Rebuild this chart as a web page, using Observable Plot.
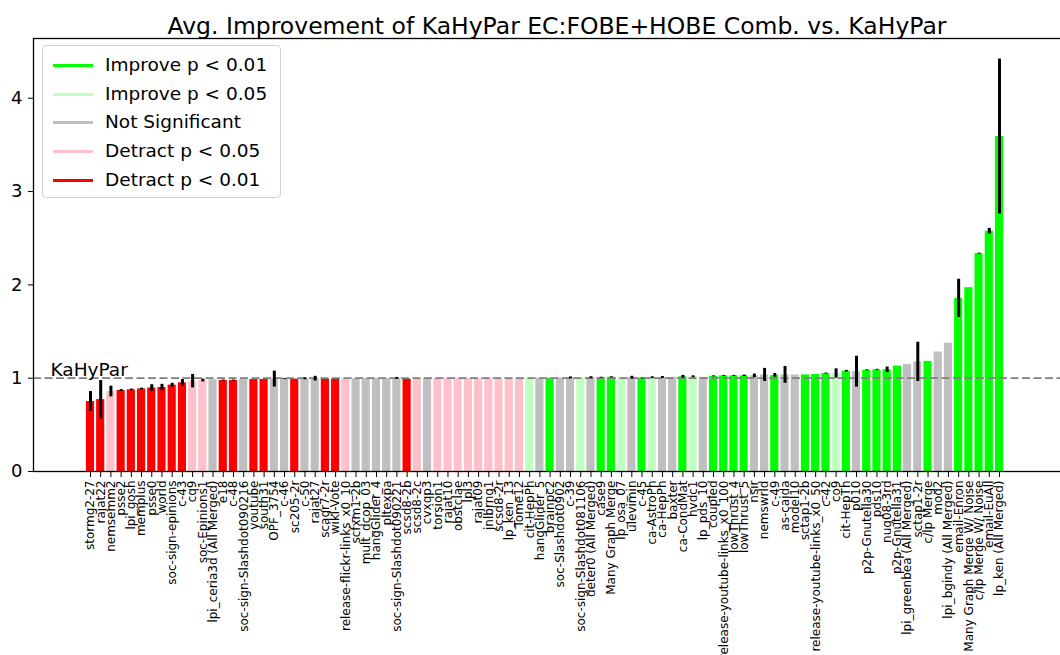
<!DOCTYPE html>
<html><head><meta charset="utf-8">
<script src="https://cdn.jsdelivr.net/npm/d3@7"></script>
<script src="https://cdn.jsdelivr.net/npm/@observablehq/plot@0.6"></script>
<style>
body{margin:0;overflow:hidden;background:#fff;font-family:"DejaVu Sans",sans-serif}
#wrap{position:relative;width:1060px;height:655px;overflow:hidden}
.legend{position:absolute;left:42px;top:45px;width:239px;height:153px;border:1px solid #d4d4d4;border-radius:4px;background:rgba(255,255,255,0.85);box-sizing:border-box}
.row{position:absolute;left:0;width:100%;height:24px}
.sw{position:absolute;left:10px;top:11px;width:40px;height:3px}
.lab{position:absolute;left:62px;top:0;font-size:18.5px;line-height:24px;white-space:nowrap;color:#000}
</style></head><body><div id="wrap"></div>
<script>
const title = "Avg. Improvement of KaHyPar EC:FOBE+HOBE Comb. vs. KaHyPar";
const labels = ["stormg2-27","rajat22","nemsemm2","psse2","lpi_gosh","memplus","psse0","world","soc-sign-epinions","c-43",
"cq9","soc-Epinions1","lpi_ceria3d (All Merged)","e18","c-48","soc-sign-Slashdot090216","youtube","south31","OPF_3754","c-46",
"sc205-2r","c-50","rajat27","scagr7-2r","wiki-Vote","release-flickr-links_x0_10","scfxm1-2b","mult_dcop_03","hangGlider_4","pltexpa",
"soc-sign-Slashdot090221","scsd8-2b","scsd8-2c","cvxqp3","torsion1","rajat10","obstclae","lpl3","rajat09","jnlbrng1",
"scsd8-2r","lp_ken_13","Tome12","cit-HepPh","hangGlider_5","brainpc2","soc-Slashdot0902","c-39","soc-sign-Slashdot081106","deter0 (All Merged)",
"case9","Many Graph Merge","lp_osa_07","ulevimin","c-45","ca-AstroPh","ca-HepPh","baxter","ca-CondMat","hvdc1",
"lp_pds_10","coupled","release-youtube-links_x0_100","lowThrust_4","lowThrust_5","nsir","nemswrld","c-49","as-caida","model10",
"sctap1-2b","release-youtube-links_x0_50","c-42","co9","cit-HepTh","p010","p2p-Gnutella30","pds10","nug08-3rd","p2p-Gnutella31",
"lpi_greenbea (All Merged)","sctap1-2r","c/lp Merge","mod2","lpi_bgindy (All Merged)","email-Enron","Many Graph Merge W/ Noise","c/lp Merge W/ Noise","email-EuAll","lp_ken (All Merged)"];
const values = [0.75,0.77,0.857,0.868,0.875,0.885,0.895,0.90,0.925,0.95,
0.968,0.975,0.983,0.975,0.975,0.985,0.985,0.987,0.99,0.99,
0.99,0.993,0.995,0.99,0.99,0.993,0.995,0.996,0.996,0.997,
0.998,0.99,0.995,0.997,0.996,0.996,0.997,0.997,0.997,0.998,
0.998,0.998,0.998,1.0,1.0,1.0,1.0,1.003,1.0,1.005,
1.005,1.01,1.0,1.005,0.998,1.005,1.008,1.008,1.015,1.015,
1.01,1.02,1.025,1.025,1.025,1.025,1.035,1.03,1.035,1.035,
1.035,1.04,1.05,1.05,1.075,1.07,1.085,1.09,1.09,1.13,
1.147,1.175,1.18,1.28,1.375,1.855,1.97,2.335,2.575,3.59];
const errors = [0.107,0.205,0.057,0.01,0.008,0.008,0.035,0.034,0.02,0.035,
0.072,0.015,0,0.005,0.005,0,0,0,0.085,0.005,
0,0.01,0.025,0,0,0,0,0,0,0,
0.01,0,0,0,0,0,0,0,0,0,
0,0,0,0,0,0,0,0.01,0,0.01,
0.005,0.005,0,0.015,0.005,0.01,0.01,0,0.015,0.01,
0,0.005,0.005,0.005,0.008,0.02,0.07,0.02,0.09,0,
0,0,0.005,0.05,0.008,0.165,0.005,0.005,0.03,0,
0,0.21,0,0,0,0.205,0,0.005,0.03,0.83];
// significance codes: G improve p<0.01, g improve p<0.05, N not significant, p detract p<0.05, R detract p<0.01
const sigCodes = ["R","R","p","R","R","R","R","R","R","R",
"p","p","N","R","R","N","R","R","N","N",
"R","N","N","R","R","p","N","N","N","N",
"N","R","p","N","p","p","p","p","p","p",
"p","p","p","g","N","G","N","N","g","N",
"G","G","g","N","G","g","N","N","G","g",
"N","G","G","G","G","N","N","G","N","N",
"G","G","G","g","G","N","G","G","G","G",
"N","N","G","N","N","G","G","G","G","G"];
const categoryCodes = ["G","g","N","p","R"];
const categoryNames = ["Improve p < 0.01","Improve p < 0.05","Not Significant","Detract p < 0.05","Detract p < 0.01"];
const categoryColors = ["#00ff00","#bfffbf","#bfbfbf","#ffc0cb","#ff0000"];
const baselineLabel = "KaHyPar";
const baselineValue = 1;
const yTicks = [0,1,2,3,4];

const rows = labels.map((name,i)=>({name, value: values[i], err: errors[i], sig: categoryNames[categoryCodes.indexOf(sigCodes[i])]}));

const chart = Plot.plot({
  width: 1060, height: 655,
  marginTop: 38, marginBottom: 184, marginLeft: 33, marginRight: -20,
  style: {fontFamily: "DejaVu Sans", background: "#fff", overflow: "hidden", color: "#000"},
  x: {type: "band", domain: labels, range: [85.9, 1003.1], paddingInner: 0.2, paddingOuter: 0, round: false},
  y: {domain: [0, 4.64], ticks: yTicks},
  color: {domain: categoryNames, range: categoryColors},
  marks: [
    Plot.barY(rows, {x: "name", y: "value", fill: "sig"}),
    Plot.ruleY([baselineValue], {stroke: "#808080", strokeWidth: 1.8, strokeDasharray: "8,3.5"}),
    Plot.ruleX(rows.filter(d => d.err > 0), {x: "name", y1: d => d.value - d.err, y2: d => d.value + d.err, stroke: "#000", strokeWidth: 3}),
    Plot.text([{t: baselineLabel, y: baselineValue}], {y: "y", text: "t", frameAnchor: "left", textAnchor: "start", lineAnchor: "bottom", dx: 17, dy: -2, fontSize: 18.5, fill: "#000"}),
    Plot.text([title], {frameAnchor: "top", dy: -21, fontSize: 23.5, fill: "#000"}),
    Plot.axisY({ticks: yTicks, tickSize: 5, tickPadding: 6, fontSize: 18, label: null, tickFormat: d3.format("d")}),
    Plot.axisX({tickRotate: -90, tickSize: 6, tickPadding: 3, fontSize: 12, label: null}),
    Plot.frame({stroke: "#000", strokeWidth: 1.3})
  ]
});
const wrap = document.getElementById("wrap");
wrap.appendChild(chart);

const legend = document.createElement("div");
legend.className = "legend";
categoryNames.forEach((n, i) => {
  const row = document.createElement("div");
  row.className = "row";
  row.style.top = (7 + i * 28.7) + "px";
  const sw = document.createElement("div");
  sw.className = "sw";
  sw.style.background = categoryColors[i];
  const lab = document.createElement("div");
  lab.className = "lab";
  lab.textContent = n;
  row.appendChild(sw); row.appendChild(lab);
  legend.appendChild(row);
});
wrap.appendChild(legend);
</script></body></html>
